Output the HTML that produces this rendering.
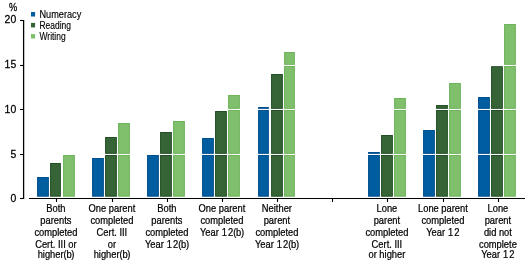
<!DOCTYPE html>
<html><head><meta charset="utf-8"><style>
html,body{margin:0;padding:0;background:#fff;width:529px;height:265px;overflow:hidden}
svg{display:block;will-change:transform}
text{font-family:"Liberation Sans",sans-serif;fill:#000}
.yl{font-size:11px;stroke:#000;stroke-width:0.25}
.xl{font-size:11px;stroke:#000;stroke-width:0.25}
.lg{font-size:10.2px;stroke:#000;stroke-width:0.15}
</style></head><body>
<svg width="529" height="265" viewBox="0 0 529 265">
<rect x="37.57" y="177.50" width="10.80" height="18.70" fill="#005DA0" stroke="#004F8E" stroke-width="1"/>
<rect x="50.57" y="163.50" width="9.80" height="32.70" fill="#366436" stroke="#234F26" stroke-width="1"/>
<rect x="63.57" y="155.50" width="10.80" height="40.70" fill="#80BF6C" stroke="#6CB45A" stroke-width="1"/>
<rect x="92.57" y="158.50" width="10.80" height="37.70" fill="#005DA0" stroke="#004F8E" stroke-width="1"/>
<rect x="105.57" y="137.50" width="10.80" height="15.84" fill="#366436" stroke="#234F26" stroke-width="1"/>
<rect x="105.57" y="155.47" width="10.80" height="40.73" fill="#366436" stroke="#234F26" stroke-width="1"/>
<rect x="118.57" y="123.50" width="10.80" height="29.84" fill="#80BF6C" stroke="#6CB45A" stroke-width="1"/>
<rect x="118.57" y="155.47" width="10.80" height="40.73" fill="#80BF6C" stroke="#6CB45A" stroke-width="1"/>
<rect x="147.57" y="155.50" width="10.80" height="40.70" fill="#005DA0" stroke="#004F8E" stroke-width="1"/>
<rect x="160.57" y="132.50" width="10.80" height="20.84" fill="#366436" stroke="#234F26" stroke-width="1"/>
<rect x="160.57" y="155.47" width="10.80" height="40.73" fill="#366436" stroke="#234F26" stroke-width="1"/>
<rect x="173.57" y="121.50" width="10.80" height="31.84" fill="#80BF6C" stroke="#6CB45A" stroke-width="1"/>
<rect x="173.57" y="155.47" width="10.80" height="40.73" fill="#80BF6C" stroke="#6CB45A" stroke-width="1"/>
<rect x="202.57" y="138.50" width="10.80" height="14.84" fill="#005DA0" stroke="#004F8E" stroke-width="1"/>
<rect x="202.57" y="155.47" width="10.80" height="40.73" fill="#005DA0" stroke="#004F8E" stroke-width="1"/>
<rect x="215.57" y="111.50" width="10.80" height="41.84" fill="#366436" stroke="#234F26" stroke-width="1"/>
<rect x="215.57" y="155.47" width="10.80" height="40.73" fill="#366436" stroke="#234F26" stroke-width="1"/>
<rect x="228.57" y="95.50" width="10.80" height="12.84" fill="#80BF6C" stroke="#6CB45A" stroke-width="1"/>
<rect x="228.57" y="110.47" width="10.80" height="42.87" fill="#80BF6C" stroke="#6CB45A" stroke-width="1"/>
<rect x="228.57" y="155.47" width="10.80" height="40.73" fill="#80BF6C" stroke="#6CB45A" stroke-width="1"/>
<rect x="258.57" y="107.50" width="9.80" height="0.84" fill="#005DA0" stroke="#004F8E" stroke-width="1"/>
<rect x="258.57" y="110.47" width="9.80" height="42.87" fill="#005DA0" stroke="#004F8E" stroke-width="1"/>
<rect x="258.57" y="155.47" width="9.80" height="40.73" fill="#005DA0" stroke="#004F8E" stroke-width="1"/>
<rect x="271.57" y="74.50" width="10.80" height="33.84" fill="#366436" stroke="#234F26" stroke-width="1"/>
<rect x="271.57" y="110.47" width="10.80" height="42.87" fill="#366436" stroke="#234F26" stroke-width="1"/>
<rect x="271.57" y="155.47" width="10.80" height="40.73" fill="#366436" stroke="#234F26" stroke-width="1"/>
<rect x="284.57" y="52.50" width="9.80" height="11.84" fill="#80BF6C" stroke="#6CB45A" stroke-width="1"/>
<rect x="284.57" y="66.47" width="9.80" height="41.87" fill="#80BF6C" stroke="#6CB45A" stroke-width="1"/>
<rect x="284.57" y="110.47" width="9.80" height="42.87" fill="#80BF6C" stroke="#6CB45A" stroke-width="1"/>
<rect x="284.57" y="155.47" width="9.80" height="40.73" fill="#80BF6C" stroke="#6CB45A" stroke-width="1"/>
<rect x="368.57" y="152.50" width="10.80" height="0.84" fill="#005DA0" stroke="#004F8E" stroke-width="1"/>
<rect x="368.57" y="155.47" width="10.80" height="40.73" fill="#005DA0" stroke="#004F8E" stroke-width="1"/>
<rect x="381.57" y="135.50" width="10.80" height="17.84" fill="#366436" stroke="#234F26" stroke-width="1"/>
<rect x="381.57" y="155.47" width="10.80" height="40.73" fill="#366436" stroke="#234F26" stroke-width="1"/>
<rect x="394.57" y="98.50" width="10.80" height="9.84" fill="#80BF6C" stroke="#6CB45A" stroke-width="1"/>
<rect x="394.57" y="110.47" width="10.80" height="42.87" fill="#80BF6C" stroke="#6CB45A" stroke-width="1"/>
<rect x="394.57" y="155.47" width="10.80" height="40.73" fill="#80BF6C" stroke="#6CB45A" stroke-width="1"/>
<rect x="423.57" y="130.50" width="10.80" height="22.84" fill="#005DA0" stroke="#004F8E" stroke-width="1"/>
<rect x="423.57" y="155.47" width="10.80" height="40.73" fill="#005DA0" stroke="#004F8E" stroke-width="1"/>
<rect x="436.57" y="105.50" width="10.80" height="2.84" fill="#366436" stroke="#234F26" stroke-width="1"/>
<rect x="436.57" y="110.47" width="10.80" height="42.87" fill="#366436" stroke="#234F26" stroke-width="1"/>
<rect x="436.57" y="155.47" width="10.80" height="40.73" fill="#366436" stroke="#234F26" stroke-width="1"/>
<rect x="449.57" y="83.50" width="10.80" height="24.84" fill="#80BF6C" stroke="#6CB45A" stroke-width="1"/>
<rect x="449.57" y="110.47" width="10.80" height="42.87" fill="#80BF6C" stroke="#6CB45A" stroke-width="1"/>
<rect x="449.57" y="155.47" width="10.80" height="40.73" fill="#80BF6C" stroke="#6CB45A" stroke-width="1"/>
<rect x="478.57" y="97.50" width="10.80" height="10.84" fill="#005DA0" stroke="#004F8E" stroke-width="1"/>
<rect x="478.57" y="110.47" width="10.80" height="42.87" fill="#005DA0" stroke="#004F8E" stroke-width="1"/>
<rect x="478.57" y="155.47" width="10.80" height="40.73" fill="#005DA0" stroke="#004F8E" stroke-width="1"/>
<rect x="491.57" y="66.70" width="10.80" height="41.64" fill="#366436" stroke="#234F26" stroke-width="1"/>
<rect x="491.57" y="110.47" width="10.80" height="42.87" fill="#366436" stroke="#234F26" stroke-width="1"/>
<rect x="491.57" y="155.47" width="10.80" height="40.73" fill="#366436" stroke="#234F26" stroke-width="1"/>
<rect x="504.57" y="24.50" width="10.80" height="39.84" fill="#80BF6C" stroke="#6CB45A" stroke-width="1"/>
<rect x="504.57" y="66.47" width="10.80" height="41.87" fill="#80BF6C" stroke="#6CB45A" stroke-width="1"/>
<rect x="504.57" y="110.47" width="10.80" height="42.87" fill="#80BF6C" stroke="#6CB45A" stroke-width="1"/>
<rect x="504.57" y="155.47" width="10.80" height="40.73" fill="#80BF6C" stroke="#6CB45A" stroke-width="1"/>
<line x1="23.6" x2="23.6" y1="20" y2="199" stroke="#000" stroke-width="1.3"/>
<line x1="20" x2="23.6" y1="198.50" y2="198.50" stroke="#000" stroke-width="1.1"/>
<line x1="20" x2="23.6" y1="154.50" y2="154.50" stroke="#000" stroke-width="1.1"/>
<line x1="20" x2="23.6" y1="109.50" y2="109.50" stroke="#000" stroke-width="1.1"/>
<line x1="20" x2="23.6" y1="65.50" y2="65.50" stroke="#000" stroke-width="1.1"/>
<line x1="20" x2="23.6" y1="20.50" y2="20.50" stroke="#000" stroke-width="1.1"/>
<line x1="29" x2="525" y1="198.5" y2="198.5" stroke="#000" stroke-width="1.1"/>
<line x1="56.50" x2="56.50" y1="198" y2="202" stroke="#000" stroke-width="1.1"/>
<line x1="112.50" x2="112.50" y1="198" y2="202" stroke="#000" stroke-width="1.1"/>
<line x1="167.50" x2="167.50" y1="198" y2="202" stroke="#000" stroke-width="1.1"/>
<line x1="222.50" x2="222.50" y1="198" y2="202" stroke="#000" stroke-width="1.1"/>
<line x1="277.50" x2="277.50" y1="198" y2="202" stroke="#000" stroke-width="1.1"/>
<line x1="332.50" x2="332.50" y1="198" y2="202" stroke="#000" stroke-width="1.1"/>
<line x1="387.50" x2="387.50" y1="198" y2="202" stroke="#000" stroke-width="1.1"/>
<line x1="443.50" x2="443.50" y1="198" y2="202" stroke="#000" stroke-width="1.1"/>
<line x1="498.50" x2="498.50" y1="198" y2="202" stroke="#000" stroke-width="1.1"/>
<text transform="translate(16.2,202.20) scale(0.95,1)" text-anchor="end" class="yl">0</text>
<text transform="translate(16.2,158.40) scale(0.95,1)" text-anchor="end" class="yl">5</text>
<text transform="translate(16.2,112.70) scale(0.95,1)" text-anchor="end" class="yl">10</text>
<text transform="translate(16.2,67.95) scale(0.95,1)" text-anchor="end" class="yl">15</text>
<text transform="translate(16.2,23.20) scale(0.95,1)" text-anchor="end" class="yl">20</text>
<text transform="translate(13,11.3) scale(0.84,1)" text-anchor="middle" class="yl">%</text>
<text transform="translate(55.90,212.00) scale(0.85,1)" text-anchor="middle" class="xl">Both</text>
<text transform="translate(55.90,223.80) scale(0.85,1)" text-anchor="middle" class="xl">parents</text>
<text transform="translate(55.90,235.90) scale(0.85,1)" text-anchor="middle" class="xl">completed</text>
<text transform="translate(55.90,248.00) scale(0.85,1)" text-anchor="middle" class="xl">Cert. III or</text>
<text transform="translate(55.90,258.40) scale(0.85,1)" text-anchor="middle" class="xl">higher<tspan letter-spacing="-0.35">(b)</tspan></text>
<text transform="translate(111.90,212.00) scale(0.85,1)" text-anchor="middle" class="xl">One parent</text>
<text transform="translate(111.90,223.80) scale(0.85,1)" text-anchor="middle" class="xl">completed</text>
<text transform="translate(111.90,235.90) scale(0.85,1)" text-anchor="middle" class="xl">Cert. III</text>
<text transform="translate(111.90,248.00) scale(0.85,1)" text-anchor="middle" class="xl">or</text>
<text transform="translate(111.90,258.40) scale(0.85,1)" text-anchor="middle" class="xl">higher<tspan letter-spacing="-0.35">(b)</tspan></text>
<text transform="translate(166.90,212.00) scale(0.85,1)" text-anchor="middle" class="xl">Both</text>
<text transform="translate(166.90,223.80) scale(0.85,1)" text-anchor="middle" class="xl">parents</text>
<text transform="translate(166.90,235.90) scale(0.85,1)" text-anchor="middle" class="xl">completed</text>
<text transform="translate(166.90,248.00) scale(0.85,1)" text-anchor="middle" class="xl">Year<tspan letter-spacing="0.4"> </tspan><tspan letter-spacing="1.3">1</tspan>2<tspan letter-spacing="-0.35">(b)</tspan></text>
<text transform="translate(221.90,212.00) scale(0.85,1)" text-anchor="middle" class="xl">One parent</text>
<text transform="translate(221.90,223.80) scale(0.85,1)" text-anchor="middle" class="xl">completed</text>
<text transform="translate(221.90,235.90) scale(0.85,1)" text-anchor="middle" class="xl">Year<tspan letter-spacing="0.4"> </tspan><tspan letter-spacing="1.3">1</tspan>2<tspan letter-spacing="-0.35">(b)</tspan></text>
<text transform="translate(276.90,212.00) scale(0.85,1)" text-anchor="middle" class="xl">Neither</text>
<text transform="translate(276.90,223.80) scale(0.85,1)" text-anchor="middle" class="xl">parent</text>
<text transform="translate(276.90,235.90) scale(0.85,1)" text-anchor="middle" class="xl">completed</text>
<text transform="translate(276.90,248.00) scale(0.85,1)" text-anchor="middle" class="xl">Year<tspan letter-spacing="0.4"> </tspan><tspan letter-spacing="1.3">1</tspan>2<tspan letter-spacing="-0.35">(b)</tspan></text>
<text transform="translate(386.90,212.00) scale(0.85,1)" text-anchor="middle" class="xl">Lone</text>
<text transform="translate(386.90,223.80) scale(0.85,1)" text-anchor="middle" class="xl">parent</text>
<text transform="translate(386.90,235.90) scale(0.85,1)" text-anchor="middle" class="xl">completed</text>
<text transform="translate(386.90,248.00) scale(0.85,1)" text-anchor="middle" class="xl">Cert. III</text>
<text transform="translate(386.90,258.40) scale(0.85,1)" text-anchor="middle" class="xl">or higher</text>
<text transform="translate(442.90,212.00) scale(0.85,1)" text-anchor="middle" class="xl">Lone parent</text>
<text transform="translate(442.90,223.80) scale(0.85,1)" text-anchor="middle" class="xl">completed</text>
<text transform="translate(442.90,235.90) scale(0.85,1)" text-anchor="middle" class="xl">Year<tspan letter-spacing="0.4"> </tspan><tspan letter-spacing="1.3">1</tspan>2</text>
<text transform="translate(497.90,212.00) scale(0.85,1)" text-anchor="middle" class="xl">Lone</text>
<text transform="translate(497.90,223.80) scale(0.85,1)" text-anchor="middle" class="xl">parent</text>
<text transform="translate(497.90,235.90) scale(0.85,1)" text-anchor="middle" class="xl">did not</text>
<text transform="translate(497.90,248.00) scale(0.85,1)" text-anchor="middle" class="xl">complete</text>
<text transform="translate(497.90,258.40) scale(0.85,1)" text-anchor="middle" class="xl">Year<tspan letter-spacing="0.4"> </tspan><tspan letter-spacing="1.3">1</tspan>2</text>
<rect x="31" y="12.00" width="4.1" height="4.5" fill="#005DA0"/>
<text transform="translate(39.5,18.05) scale(0.9,1)" class="lg">Numeracy</text>
<rect x="31" y="22.90" width="4.1" height="4.5" fill="#366436"/>
<text transform="translate(39.5,28.80) scale(0.83,1)" class="lg">Reading</text>
<rect x="31" y="34.00" width="4.1" height="4.5" fill="#80BF6C"/>
<text transform="translate(39.5,39.70) scale(0.83,1)" class="lg">Writing</text>
</svg>
</body></html>
